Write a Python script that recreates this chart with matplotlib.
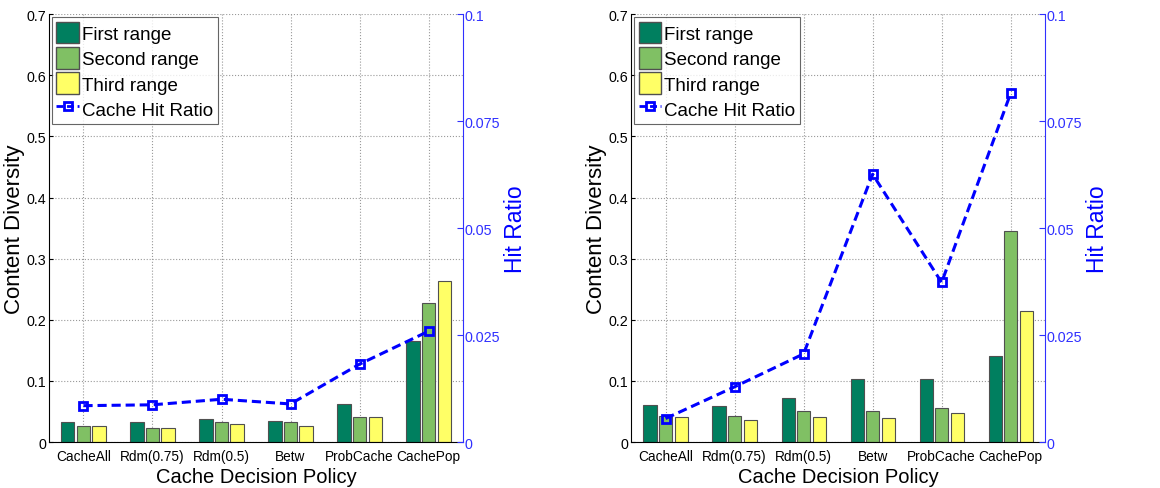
import numpy as np
import matplotlib
matplotlib.use("Agg")
import matplotlib.pyplot as plt
from matplotlib.lines import Line2D
from matplotlib.patches import Patch

plt.rcParams['font.family'] = ['Liberation Sans', 'DejaVu Sans']

policies = ["CacheAll", "Rdm(0.75)", "Rdm(0.5)", "Betw", "ProbCache", "CachePop"]

# left panel
first_a = [0.033, 0.033, 0.038, 0.034, 0.062, 0.165]
second_a = [0.027, 0.0235, 0.033, 0.033, 0.0415, 0.227]
third_a = [0.027, 0.023, 0.0295, 0.027, 0.0415, 0.263]
hit_a = [0.0085, 0.0087, 0.0100, 0.0089, 0.0182, 0.0259]

# right panel
first_b = [0.061, 0.059, 0.0715, 0.103, 0.103, 0.141]
second_b = [0.042, 0.0425, 0.050, 0.051, 0.0555, 0.346]
third_b = [0.041, 0.0355, 0.041, 0.039, 0.048, 0.214]
hit_b = [0.0055, 0.0129, 0.0206, 0.0626, 0.0373, 0.0815]

colors = ["#007F5F", "#80C064", "#FFFF66"]
edge = "#505050"
blue = "#0000FF"
lblue = "#3030FF"

fig = plt.figure(figsize=(11.6, 4.89), dpi=100)


def panel(rect, series, hit):
    ax = fig.add_axes(rect)
    x = np.arange(1, len(policies) + 1)
    offs = [-0.225, 0.0, 0.225]
    for vals, off, c in zip(series, offs, colors):
        ax.bar(x + off, vals, width=0.19, color=c, edgecolor=edge, linewidth=0.8, zorder=2)
    ax.set_xlim(0.5, 6.5)
    ax.set_ylim(0, 0.7)
    ax.set_xticks(x)
    ax.set_xticklabels(policies, fontsize=9.8)
    ax.set_yticks(np.arange(0, 0.71, 0.1))
    ax.set_yticklabels(["0"] + ["%.1f" % v for v in np.arange(0.1, 0.71, 0.1)], fontsize=10.3)
    ax.tick_params(direction='in', length=3)
    ax.tick_params(axis='y', pad=2)
    ax.tick_params(axis='x', pad=5)
    ax.grid(True, linestyle=':', color='#999999', linewidth=0.8, zorder=0)
    ax.set_axisbelow(True)
    ax.spines['top'].set_visible(False)
    ax.spines['right'].set_visible(False)
    ax.set_xlabel("Cache Decision Policy", fontsize=14.5, labelpad=3)
    ax.set_ylabel("Content Diversity", fontsize=16)
    ax.yaxis.set_label_coords(-0.058, 0.5)

    rax = ax.twinx()
    rax.plot(x, hit, linestyle='--', color=blue, linewidth=2.2, marker='s',
             markersize=6, markerfacecolor='none', markeredgecolor=blue,
             markeredgewidth=2, dashes=(3, 1.6), zorder=3)
    rax.set_ylim(0, 0.1)
    rax.set_yticks([0, 0.025, 0.05, 0.075, 0.1])
    rax.set_yticklabels(["0", "0.025", "0.05", "0.075", "0.1"], fontsize=10.3, color=lblue)
    rax.tick_params(axis='y', direction='in', length=4, colors=lblue, pad=1)
    rax.spines['right'].set_color(lblue)
    rax.spines['top'].set_visible(False)
    rax.spines['left'].set_visible(False)
    rax.spines['bottom'].set_visible(False)
    rax.set_ylabel("Hit Ratio", fontsize=16.5, color=blue, labelpad=3)

    handles = [Patch(facecolor=colors[0], edgecolor=edge, label="First range"),
               Patch(facecolor=colors[1], edgecolor=edge, label="Second range"),
               Patch(facecolor=colors[2], edgecolor=edge, label="Third range"),
               Line2D([], [], linestyle='--', color=blue, linewidth=2, marker='s',
                      markersize=6, markerfacecolor='none', markeredgewidth=2,
                      dashes=(2.5, 1.3), label="Cache Hit Ratio")]
    leg = rax.legend(handles=handles, loc='upper left', fontsize=13.5, frameon=True,
                     fancybox=False, edgecolor='#404040', borderaxespad=0.15,
                     handlelength=1.2, handleheight=1.4, handletextpad=0.15,
                     labelspacing=0.2, borderpad=0.25)
    leg.get_frame().set_linewidth(0.8)
    return ax


panel([0.0422, 0.094, 0.357, 0.875], [first_a, second_a, third_a], hit_a)
panel([0.544, 0.094, 0.357, 0.875], [first_b, second_b, third_b], hit_b)

fig.savefig("out.png", dpi=100)
